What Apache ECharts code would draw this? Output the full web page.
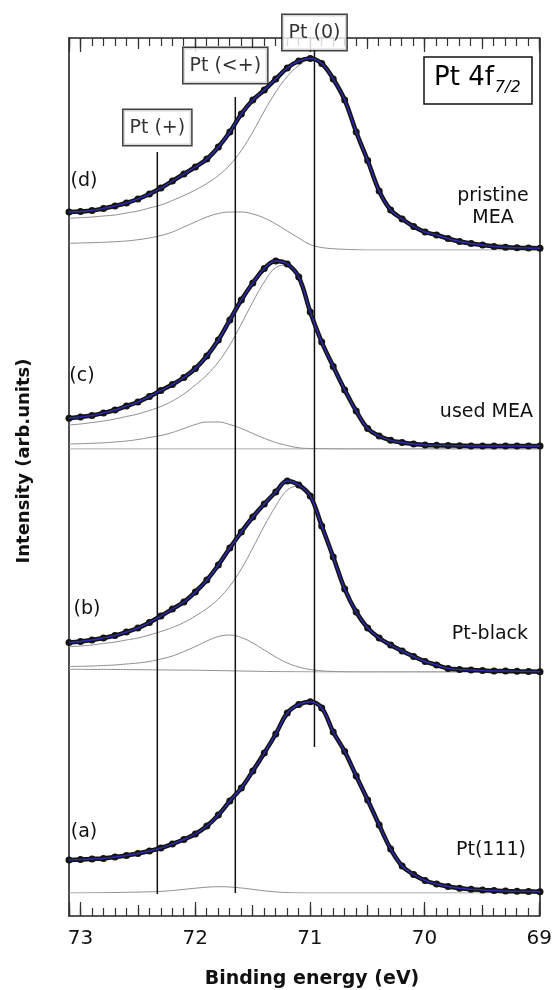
<!DOCTYPE html>
<html><head><meta charset="utf-8">
<script src="https://cdn.jsdelivr.net/npm/echarts@6/dist/echarts.min.js"></script>
<style>html,body{margin:0;padding:0;background:#fff}#c{width:555px;height:990px}</style>
</head><body><div id="c"></div>
<script>
// ---------------- data ----------------
const energy = [73.1,73.0,72.9,72.8,72.7,72.6,72.5,72.4,72.3,72.2,72.1,72.0,71.9,71.8,71.7,71.6,71.5,71.4,71.3,71.2,71.1,71.0,70.9,70.8,70.7,70.6,70.5,70.4,70.3,70.2,70.1,70.0,69.9,69.8,69.7,69.6,69.5,69.4,69.3,69.2,69.1,69.0];
const xTickLabels = ['69','70','71','72','73'];

// (d) pristine MEA
const dData = [38,38.5,39.5,41.5,44,47,51,56,62,69,76,83,91,103,118,136,150,160,171,182,189,191.5,186.5,171,150,118,89.5,59,40,31,23.5,18,15,11.5,8.5,6.5,5,3.5,2.8,2.3,2,1.7];
const dPt0 = [31.7,32.3,33,34,35,37,39,42,45,49.5,54.5,60,66.5,74.5,85,99.5,118,139,158,173.5,184.5,190.5,185.5,170,149,117,88,57,38.5,29.5,22,17,13.5,10,7.5,5.5,4,3,2,1.5,1,0.5];
const dPtx = [6.7,7,7.3,7.7,8.3,9,10.3,12,14.5,18,23,28,33,36.5,38,38,36,32,26,19,12,5.5,2.5,1.3,0.7,0.3,0,0,0,0,0,0,0,0,0,0,0,0,0,0,0,0];
// (c) used MEA
const cData = [30.7,32,33.5,36,39,43,47,52.5,58.5,64.5,71.5,80.5,93,109,129,149,166,180.5,188,185,172,137,107,82.5,59,38,20.5,13,8.7,6.5,5,4,3.7,3.5,3.3,3,3,3,3,3,3,3];
const cPt0 = [24,25,26.5,28,30,32.5,35,38.5,42.5,48,55,64,74,87,104,125,147,167,181.5,184,170,136,106,81.5,58,37,19.5,12,7.7,5.5,4,3,2.7,2.5,2.3,2,2,2,2,2,2,2];
const cPtx = [5,5.3,5.7,6.2,7,8,9.5,11.5,13.5,16.5,20.5,24.5,27,27,24.5,20.5,15.5,10.7,6.5,3.5,1.2,0.5,0.3,0.1,0,0,0,0,0,0,0,0,0,0,0,0,0,0,0,0,0,0];
const cBg = [0,0,0,0,0,0,0,0,0,0,0,0,0,0,0,0,0,0,0,0,0,0,0,0,0,0,0,0,0,0,0,0,0,0,0,0,0,0,0,0,0,0];
// (b) Pt-black
const bData = [29.5,30.5,32,34,36.5,40,44,49.5,56,63,70,80,92,107,124,140,155,168,180,191,187,176,146,115,83,60,44,34,27,21,15.5,10.5,7,3.5,2.5,2,1.5,1,1,0.7,0.5,0.3];
const bPt0 = [25.3,26,27,28.5,30,32,34,37,40.5,44.5,49.5,56,63.5,73,86,103,124,146,166,182,186,175,145,114,82,59,43,33,26,20,14.5,9.5,6,3,2,1.5,1,0.7,0.5,0.3,0.2,0];
const bPtx = [5.5,5.7,6,6.5,7,8,9,10.5,13,16,20.5,25.5,31,35.5,37,34.5,29,22,15,9,5,2.5,1.2,0.5,0.2,0,0,0,0,0,0,0,0,0,0,0,0,0,0,0,0,0];
const bBg = [2.7,2.7,2.6,2.6,2.5,2.4,2.3,2.2,2.1,2,1.9,1.8,1.6,1.4,1.2,1,0.8,0.6,0.4,0.3,0.2,0.1,0,0,0,0,0,0,0,0,0,0,0,0,0,0,0,0,0,0,0,0];
// (a) Pt(111)
const aData = [33,33.5,34,34.5,36,37.5,39.5,42,45,49,53.5,59,67,78,92,105,122,140,159,180,188.5,191.3,185,161,141.5,117,93,68,44,27,18.5,12.5,9,6.5,4.7,3.8,3,2.5,2,1.7,1.5,1.3];
const aPtx = [0,0.1,0.2,0.3,0.5,0.7,0.9,1.2,1.6,2.5,3.6,4.8,5.8,6.3,6,5,3.6,2.2,1.1,0.4,0.1,0,0,0,0,0,0,0,0,0,0,0,0,0,0,0,0,0,0,0,0,0];

const panelTags = ['(d)','(c)','(b)','(a)'];
const sampleNames = ['pristine\nMEA','used MEA','Pt-black','Pt(111)'];
const refEnergy = [72.33, 71.65, 70.96];
const refNames = ['Pt (+)', 'Pt (<+)', 'Pt (0)'];

// ---------------- layout ----------------
const FONT = 'DejaVu Sans';
const PLOT = {left: 69, top: 38, width: 471, height: 878};
const panelTops = [50, 249, 472, 693];
const PANEL_H = 200;
const refSpan = [[22, 764], [23, 819], [169, 866]];
const refLabelDist = [7, 14, 0];
const refLabelOffset = [[0,0], [-10,0], [0,0]];
const tagPos = [[84,181],[82,376],[87,609],[84,832]];
const namePos = [[493,207,'center'],[533,412,'right'],[528,634,'right'],[526,850,'right']];

const pair = arr => energy.map((e, i) => [e, arr[i]]);
const panels = [
  {data: dData, comps: [dPtx, dPt0]},
  {data: cData, comps: [cBg, cPtx, cPt0]},
  {data: bData, comps: [bBg, bPtx, bPt0]},
  {data: aData, comps: [aPtx]}
];

const grids = [Object.assign({}, PLOT)];
panelTops.forEach(t => grids.push({left: PLOT.left, width: PLOT.width, top: t, height: PANEL_H}));

const frameColor = '#222';
function tickAxis(pos, interval, len, main) {
  return {
    gridIndex: 0, type: 'value', position: pos, min: 69, max: 73.1, inverse: true, interval: interval,
    axisLine: {show: main, lineStyle: {color: frameColor, width: 1.6}},
    axisTick: {show: true, inside: true, length: len, lineStyle: {color: '#333', width: 1.2}},
    axisLabel: {show: main && pos === 'bottom', fontFamily: FONT, fontSize: 20, color: '#111', margin: 13,
      formatter: v => xTickLabels.indexOf(String(Math.round(v * 10) / 10)) >= 0 ? String(Math.round(v)) : ''},
    splitLine: {show: false}
  };
}
const xAxes = [
  tickAxis('bottom', 1, 14, true), tickAxis('bottom', 0.5, 11, false), tickAxis('bottom', 0.1, 8, false),
  tickAxis('top', 1, 14, true), tickAxis('top', 0.5, 11, false), tickAxis('top', 0.1, 8, false)
];
panelTops.forEach((t, i) => xAxes.push({gridIndex: i + 1, type: 'value', min: 69, max: 73.1, inverse: true, show: false}));

const yAxes = [
  {gridIndex: 0, type: 'value', min: 0, max: PLOT.height, position: 'left', axisLine: {show: true, lineStyle: {color: frameColor, width: 1.6}}, axisTick: {show: false}, axisLabel: {show: false}, splitLine: {show: false}},
  {gridIndex: 0, type: 'value', min: 0, max: PLOT.height, position: 'right', axisLine: {show: true, lineStyle: {color: frameColor, width: 1.6}}, axisTick: {show: false}, axisLabel: {show: false}, splitLine: {show: false}}
];
panelTops.forEach((t, i) => yAxes.push({gridIndex: i + 1, type: 'value', min: 0, max: PANEL_H, show: false}));

const series = [];
panels.forEach((p, i) => {
  const xi = 6 + i, yi = 2 + i;
  p.comps.forEach(arr => series.push({
    type: 'line', xAxisIndex: xi, yAxisIndex: yi, data: pair(arr), smooth: 0.4, symbol: 'none',
    lineStyle: {color: '#8e8e8e', width: 1}, z: 2, silent: true, animation: false
  }));
  series.push({
    type: 'line', xAxisIndex: xi, yAxisIndex: yi, data: pair(p.data), smooth: 0.4, symbol: 'circle', symbolSize: 7,
    itemStyle: {color: '#141414'}, lineStyle: {color: '#141414', width: 4.5}, z: 4, animation: false
  });
  series.push({
    type: 'line', xAxisIndex: xi, yAxisIndex: yi, data: pair(p.data), smooth: 0.4, symbol: 'none',
    lineStyle: {color: '#2d2db4', width: 1.4}, z: 5, animation: false
  });
});
refEnergy.forEach((e, k) => series.push({
  type: 'line', xAxisIndex: 0, yAxisIndex: 0, data: [[e, refSpan[k][0]], [e, refSpan[k][1]]], symbol: 'none',
  lineStyle: {color: '#111', width: 1.5}, z: 3, animation: false
}));
series.push({
  type: 'scatter', xAxisIndex: 0, yAxisIndex: 0, symbolSize: 0, z: 10, animation: false,
  data: refEnergy.map((e, k) => ({value: [e, refSpan[k][1]], name: refNames[k],
    label: {distance: refLabelDist[k], offset: refLabelOffset[k]}})),
  label: {show: true, position: 'top', formatter: p => p.name, fontFamily: FONT, fontSize: 19, color: '#000',
    backgroundColor: '#fff', borderColor: '#111', borderWidth: 1.5, padding: [7, 6, 6, 6], lineHeight: 22}
});

const graphics = [];
panelTags.forEach((t, i) => graphics.push({type: 'text', x: tagPos[i][0], y: tagPos[i][1], z: 20,
  style: {text: t, font: '19px "DejaVu Sans"', fill: '#111', align: 'center', verticalAlign: 'middle', textAlign: 'center', textVerticalAlign: 'middle'}}));
sampleNames.forEach((t, i) => graphics.push({type: 'text', x: namePos[i][0], y: namePos[i][1], z: 20,
  style: {text: t, font: '19px "DejaVu Sans"', fill: '#111', lineHeight: 22, align: namePos[i][2], verticalAlign: 'middle', textAlign: namePos[i][2], textVerticalAlign: 'middle'}}));
graphics.push({type: 'text', x: 312, y: 979, z: 20,
  style: {text: 'Binding energy (eV)', font: 'bold 19px "DejaVu Sans"', fill: '#111', align: 'center', verticalAlign: 'middle', textAlign: 'center', textVerticalAlign: 'middle'}});
graphics.push({type: 'text', x: 24, y: 461, rotation: Math.PI / 2, z: 20,
  style: {text: 'Intensity (arb.units)', font: 'bold 18px "DejaVu Sans"', fill: '#111', align: 'center', verticalAlign: 'middle', textAlign: 'center', textVerticalAlign: 'middle'}});

const chart = echarts.init(document.getElementById('c'), null, {renderer: 'canvas'});
chart.setOption({
  animation: false,
  backgroundColor: '#fff',
  title: {
    text: '{m|Pt 4f}{s|7/2}', left: 424, top: 52, padding: [8, 12, 8, 10],
    borderColor: '#111', borderWidth: 1.5, backgroundColor: '#fff',
    textStyle: {fontWeight: 'normal', rich: {
      m: {fontFamily: FONT, fontSize: 26, fontWeight: 'normal', color: '#000', lineHeight: 36, verticalAlign: 'middle'},
      s: {fontFamily: FONT, fontSize: 16, fontWeight: 'normal', fontStyle: 'italic', color: '#000', lineHeight: 36, verticalAlign: 'bottom', padding: [14, 0, 0, 1]}
    }}
  },
  grid: grids,
  xAxis: xAxes,
  yAxis: yAxes,
  series: series,
  graphic: graphics
});
</script></body></html>
